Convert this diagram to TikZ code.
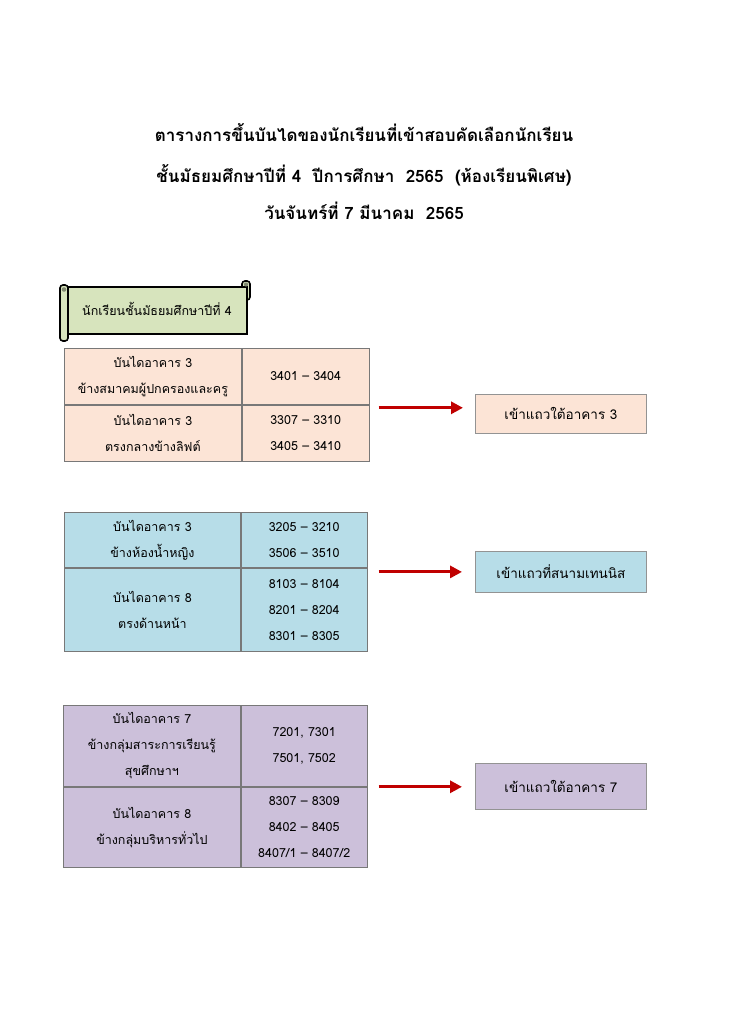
\documentclass[tikz,border=0pt]{standalone}
\usepackage{fontspec}
\newfontfamily\thaifont[Script=Thai]{Loma}
\usetikzlibrary{arrows.meta,positioning,calc}

\definecolor{peach}{RGB}{252,228,214}
\definecolor{skyb}{RGB}{183,221,232}
\definecolor{lilac}{RGB}{204,192,218}
\definecolor{scrollg}{RGB}{215,228,189}
\definecolor{arrred}{RGB}{192,0,0}
\definecolor{rule}{RGB}{120,120,120}

\begin{document}
\begin{tikzpicture}[
    x=1pt, y=-1pt,
    >={Triangle[length=12pt,width=12pt]},
    ttl/.style={font=\thaifont\bfseries\fontsize{17}{17}\selectfont, inner sep=0pt},
    cell/.style={draw=rule, line width=0.8pt, anchor=north west, align=center, inner sep=0pt,
                 font=\thaifont\fontsize{12.5}{26}\selectfont},
    goal/.style={draw=rule!80, line width=0.8pt, anchor=north west, inner sep=0pt,
                 font=\thaifont\fontsize{13.5}{13.5}\selectfont},
    arr/.style={->, draw=arrred, line width=3pt},
    roll/.style={draw=black, line width=1.6pt, fill=scrollg, rounded corners=3pt}]
  \useasboundingbox[fill=white] (0,0) rectangle (728,1024);

  % title
  \node[ttl] (h1) at (364,133) {ตารางการขึ้นบันไดของนักเรียนที่เข้าสอบคัดเลือกนักเรียน};
  \node[ttl] (h2) at (364,175) {ชั้นมัธยมศึกษาปีที่ 4\ \ ปีการศึกษา\ \ 2565\ \ (ห้องเรียนพิเศษ)};
  \node[ttl] (h3) at (364,211) {วันจันทร์ที่ 7 มีนาคม\ \ 2565};

  % scroll banner
  \draw[roll] (242,281) rectangle (250,300);
  \draw[draw=black, line width=1.6pt, fill=scrollg] (64,287) rectangle (247,334);
  \draw[roll] (60,285) rectangle (68,341);
  \fill[scrollg!60!black] (64,289.5) circle (2.3pt);
  \fill[scrollg!60!black] (246,284.5) circle (2.1pt);
  \node[font=\thaifont\fontsize{12.5}{12.5}\selectfont] (banner) at (157,309) {นักเรียนชั้นมัธยมศึกษาปีที่ 4};

  % group 1
  \node[cell, fill=peach, minimum width=177pt, minimum height=56pt] (a1) at (64,348) {บันไดอาคาร 3\\ข้างสมาคมผู้ปกครองและครู};
  \node[cell, fill=peach, minimum width=127pt, minimum height=56pt] (a2) at (a1.north east) {3401 – 3404};
  \node[cell, fill=peach, minimum width=177pt, minimum height=56pt] (a3) at (a1.south west) {บันไดอาคาร 3\\ตรงกลางข้างลิฟต์};
  \node[cell, fill=peach, minimum width=127pt, minimum height=56pt] (a4) at (a3.north east) {3307 – 3310\\3405 – 3410};
  \node[goal, fill=peach, minimum width=171pt, minimum height=39pt] (g1) at (475,394) {เข้าแถวใต้อาคาร 3};
  \draw[arr] ($(a2.south east)+(9,3)$) -- ($(g1.west |- a2.south east)+(-12,3)$);

  % group 2
  \node[cell, fill=skyb, minimum width=176pt, minimum height=55pt] (b1) at (64,512) {บันไดอาคาร 3\\ข้างห้องน้ำหญิง};
  \node[cell, fill=skyb, minimum width=126pt, minimum height=55pt] (b2) at (b1.north east) {3205 – 3210\\3506 – 3510};
  \node[cell, fill=skyb, minimum width=176pt, minimum height=83pt] (b3) at (b1.south west) {บันไดอาคาร 8\\ตรงด้านหน้า};
  \node[cell, fill=skyb, minimum width=126pt, minimum height=83pt] (b4) at (b3.north east) {8103 – 8104\\8201 – 8204\\8301 – 8305};
  \node[goal, fill=skyb, minimum width=171pt, minimum height=41pt] (g2) at (475,551) {เข้าแถวที่สนามเทนนิส};
  \draw[arr] ([xshift=11pt]b2.east |- g2.west) -- ([xshift=-13pt]g2.west);

  % group 3
  \node[cell, fill=lilac, minimum width=177pt, minimum height=81pt] (c1) at (63,705) {บันไดอาคาร 7\\ข้างกลุ่มสาระการเรียนรู้\\สุขศึกษาฯ};
  \node[cell, fill=lilac, minimum width=126pt, minimum height=81pt] (c2) at (c1.north east) {7201, 7301\\7501, 7502};
  \node[cell, fill=lilac, minimum width=177pt, minimum height=80pt] (c3) at (c1.south west) {บันไดอาคาร 8\\ข้างกลุ่มบริหารทั่วไป};
  \node[cell, fill=lilac, minimum width=126pt, minimum height=80pt] (c4) at (c3.north east) {8307 – 8309\\8402 – 8405\\8407/1 – 8407/2};
  \node[goal, fill=lilac, minimum width=171pt, minimum height=46pt] (g3) at (475,763) {เข้าแถวใต้อาคาร 7};
  \draw[arr] ([xshift=11pt]c2.south east) -- ([xshift=-13pt]g3.west |- c2.south east);
\end{tikzpicture}
\end{document}
